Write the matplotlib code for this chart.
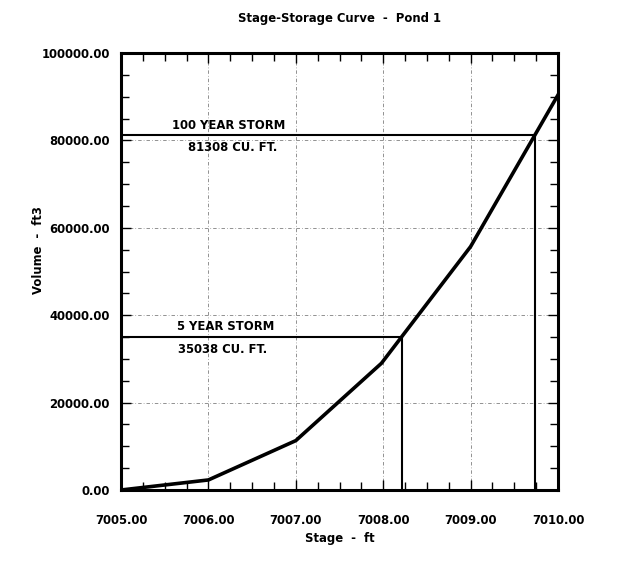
import matplotlib
matplotlib.use("Agg")
import matplotlib.pyplot as plt
from matplotlib.ticker import MultipleLocator, FormatStrFormatter

# stage-storage data
stage = [7005.0, 7006.0, 7007.0, 7007.98, 7009.0, 7010.0]
volume = [0.0, 2300.0, 11300.0, 29000.0, 55700.0, 90400.0]

storm_labels = ["100 YEAR STORM", "5 YEAR STORM"]
storm_volume = [81308.0, 35038.0]
storm_stage = [7009.74, 7008.21]
storm_text = ["81308 CU. FT.", "35038 CU. FT."]

plt.rcParams['font.family'] = ['DejaVu Sans']
plt.rcParams['font.weight'] = 'bold'
fs = 8.4

fig = plt.figure(figsize=(6.22, 5.61), dpi=100)
ax = fig.add_axes([121 / 622, 1 - 490 / 561, 437 / 622, 437 / 561])

ax.plot(stage, volume, color='k', lw=2.6, solid_joinstyle='miter', zorder=4)

for vol, st in zip(storm_volume, storm_stage):
    ax.plot([7005, st, st], [vol, vol, 0], color='k', lw=1.5, zorder=3)

ax.text(7005.58, 83500, storm_labels[0], fontsize=fs, fontweight='bold', va='center')
ax.text(7005.77, 78300, storm_text[0], fontsize=fs, fontweight='bold', va='center')
ax.text(7005.64, 37400, storm_labels[1], fontsize=fs, fontweight='bold', va='center')
ax.text(7005.65, 32100, storm_text[1], fontsize=fs, fontweight='bold', va='center')

ax.set_xlim(7005, 7010)
ax.set_ylim(0, 100000)
ax.xaxis.set_major_locator(MultipleLocator(1))
ax.xaxis.set_minor_locator(MultipleLocator(0.25))
ax.yaxis.set_major_locator(MultipleLocator(20000))
ax.yaxis.set_minor_locator(MultipleLocator(5000))
ax.xaxis.set_major_formatter(FormatStrFormatter('%.2f'))
ax.yaxis.set_major_formatter(FormatStrFormatter('%.2f'))

ax.grid(True, which='major', color='k', lw=0.5, linestyle=(0, (5, 3, 1, 3)), alpha=0.6)
ax.tick_params(which='both', direction='in', top=True, right=True, width=1.0,
               labelsize=fs)
ax.tick_params(axis='x', pad=17)
ax.tick_params(axis='y', pad=8)
ax.tick_params(which='major', length=7)
ax.tick_params(which='minor', length=6)
for s in ax.spines.values():
    s.set_linewidth(2.2)
for lab in ax.get_xticklabels() + ax.get_yticklabels():
    lab.set_fontweight('bold')

ax.set_title("Stage-Storage Curve  -  Pond 1", fontsize=fs, fontweight='bold', pad=22)
ax.set_xlabel("Stage  -  ft", fontsize=fs, fontweight='bold', labelpad=4)
ax.set_ylabel("Volume  -  ft3", fontsize=fs, fontweight='bold')
ax.yaxis.set_label_coords(-0.175, 0.55)

fig.savefig("out.png", dpi=100, facecolor='white')
